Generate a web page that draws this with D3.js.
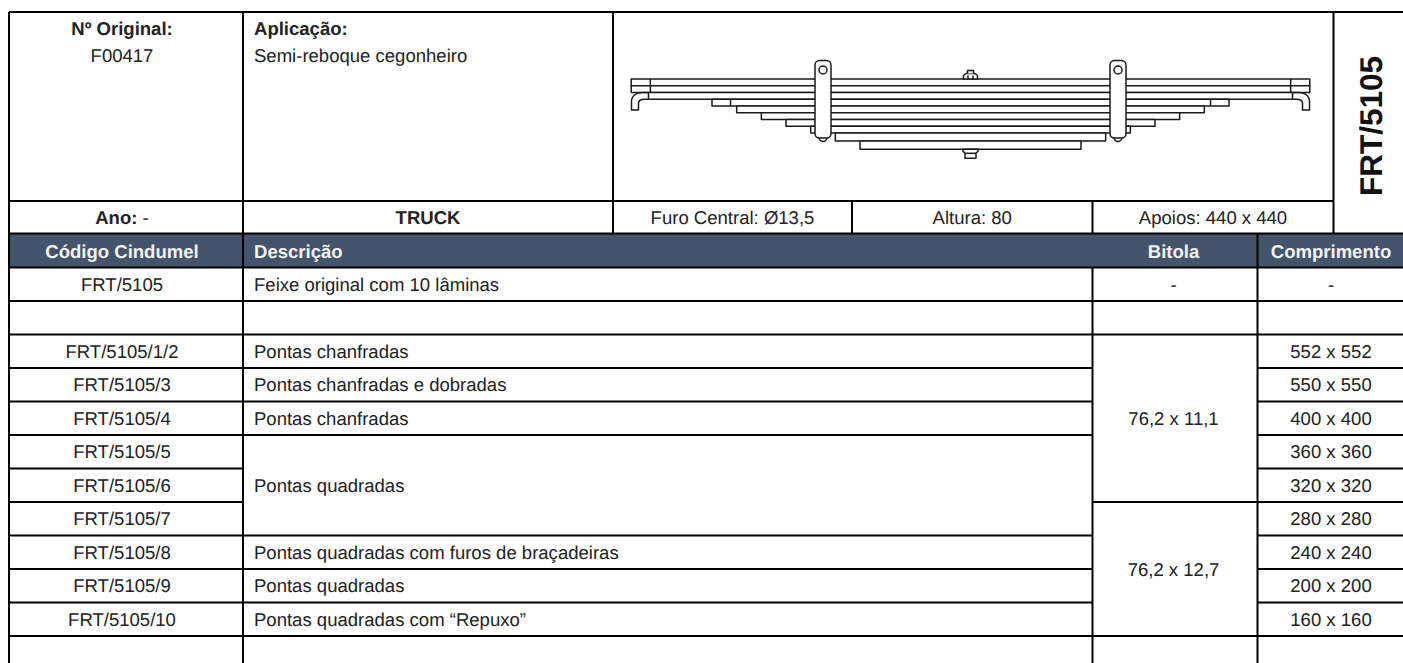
<!DOCTYPE html>
<html>
<head>
<meta charset="utf-8">
<script src="https://cdn.jsdelivr.net/npm/d3@7"></script>
<style>
html, body { margin: 0; padding: 0; background: #fff; }
svg { display: block; }
text { font-family: "Liberation Sans", Arial, sans-serif; fill: #222; text-rendering: geometricPrecision; }
</style>
</head>
<body>
<svg width="1403" height="663"></svg>
<script>
// table content
var codes = ["FRT/5105", "", "FRT/5105/1/2", "FRT/5105/3", "FRT/5105/4", "FRT/5105/5", "FRT/5105/6",
    "FRT/5105/7", "FRT/5105/8", "FRT/5105/9", "FRT/5105/10", ""];
// null = merged with the row above
var descriptions = ["Feixe original com 10 lâminas", "", "Pontas chanfradas", "Pontas chanfradas e dobradas",
    "Pontas chanfradas", "Pontas quadradas", null, null, "Pontas quadradas com furos de braçadeiras",
    "Pontas quadradas", "Pontas quadradas com “Repuxo”", ""];
var bitolas = ["-", "", "76,2 x 11,1", null, null, null, null, "76,2 x 12,7", null, null, null, ""];
var comprimentos = ["-", "", "552 x 552", "550 x 550", "400 x 400", "360 x 360", "320 x 320",
    "280 x 280", "240 x 240", "200 x 200", "160 x 160", ""];
var headers = ["Código Cindumel", "Descrição", "Bitola", "Comprimento"];
var specs = ["Furo Central: Ø13,5", "Altura: 80", "Apoios: 440 x 440"];

// leaf spring, top leaf first (drawn length, thickness)
var leafLengths = [531, 531, 503, 400, 360, 320, 280, 240, 200, 160];
var leafThickness = [11.1, 11.1, 11.1, 11.1, 11.1, 11.1, 11.1, 11.1, 13.2, 13.6];
var leafJoints = [[0, 500], [1, 500], [3, 370]];

var svg = d3.select("svg"),
    width = +svg.attr("width"),
    height = +svg.attr("height");

var ink = "#000",
    headerFill = "#44546a";

// layout
var left = 9, top_ = 12;
var colA = 243, colB = 613, colC = 852, colD = 1092.5, colE = 1257.5, colF = 1333.5;
var infoLine = 201, headTop = 233.5, headBottom = 267.5;
var baseShift = 6.6, fontSize = 18.55;

var rowY = d3.scaleLinear().domain([0, 11]).range([267.5, 636]);
function rowBottom(i) { return i === 11 ? height : rowY(i + 1); }

function line(x1, y1, x2, y2) {
    svg.append("line")
        .attr("x1", x1).attr("y1", y1).attr("x2", x2).attr("y2", y2)
        .attr("stroke", ink).attr("stroke-width", 2);
}

function label(x, y, txt, anchor, bold) {
    return svg.append("text")
        .attr("x", x).attr("y", y)
        .attr("text-anchor", anchor || "middle")
        .attr("font-size", fontSize)
        .attr("font-weight", bold ? "bold" : "normal")
        .text(txt);
}

// header band
svg.append("rect")
    .attr("x", left).attr("y", headTop)
    .attr("width", width - left).attr("height", headBottom - headTop)
    .attr("fill", headerFill);

// top block lines
line(left, top_, width, top_);
line(left, infoLine, colF, infoLine);
line(left, headTop, width, headTop);
line(left, top_, left, height);
line(colA, top_, colA, height);
line(colB, top_, colB, headTop);
line(colC, infoLine, colC, headTop);
line(colD, infoLine, colD, headTop);
line(colD, headBottom, colD, height);
line(colE, headTop, colE, height);
line(colF, top_, colF, headTop);

// rows: a line is skipped in a column while the next row is merged into it
d3.range(12).forEach(function (i) {
    var y = rowY(i);
    line(left, y, colA, y);
    if (descriptions[i] !== null) line(colA, y, colD, y);
    if (bitolas[i] !== null) line(colD, y, colE, y);
    line(colE, y, width, y);
});

// top block text
label(122, 35, "Nº Original:", "middle", true);
label(122, 62, "F00417");
label(254, 35, "Aplicação:", "start", true);
label(254, 62, "Semi-reboque cegonheiro", "start");

var ano = label(122, 224, "", "middle", true);
ano.append("tspan").text("Ano:");
ano.append("tspan").attr("font-weight", "normal").text(" -");
label((colA + colB) / 2, 224, "TRUCK", "middle", true);
specs.forEach(function (s, i) {
    label([colB, colC, colD][i] / 2 + [colC, colD, colF][i] / 2, 224, s);
});

svg.append("text")
    .attr("transform", "translate(1382,126) rotate(-90)")
    .attr("text-anchor", "middle")
    .attr("font-size", 31.5)
    .attr("font-weight", "bold")
    .style("fill", "#111")
    .text("FRT/5105");

// header text
[[122, "middle"], [254, "start"], [1173.5, "middle"], [1331, "middle"]].forEach(function (h, i) {
    label(h[0], 258, headers[i], h[1], true).style("fill", "#f2f2f2");
});

// merged cell text sits in the middle of its span
function spanEnd(list, i) {
    var j = i;
    while (j + 1 < list.length && list[j + 1] === null) j++;
    return rowBottom(j);
}
codes.forEach(function (d, i) {
    var mid = (rowY(i) + rowBottom(i)) / 2 + baseShift;
    label(122, mid, d);
    label(1331, mid, comprimentos[i]);
    if (descriptions[i]) label(254, (rowY(i) + spanEnd(descriptions, i)) / 2 + baseShift, descriptions[i], "start");
    if (bitolas[i]) label(1173.5, (rowY(i) + spanEnd(bitolas, i)) / 2 + baseShift, bitolas[i]);
});

// leaf spring drawing
var centerX = 970.5;
var halfLen = d3.scaleLinear().domain([160, 400]).range([110.5, 258.5]);
var thick = d3.scaleLinear().domain([0, 11.1]).range([0, 6.75]);
var leafTop = [];
leafThickness.reduce(function (acc, t, i) { leafTop[i] = acc; return acc + thick(t); }, 79);

var spring = svg.append("g")
    .attr("fill", "#fff")
    .attr("stroke", "#1a1a1a")
    .attr("stroke-width", 1.5)
    .attr("stroke-linejoin", "round");

spring.selectAll("rect.leaf")
    .data(leafLengths)
    .enter()
    .append("rect")
    .attr("class", "leaf")
    .attr("x", function (d) { return centerX - halfLen(d); })
    .attr("y", function (d, i) { return leafTop[i]; })
    .attr("width", function (d) { return 2 * halfLen(d); })
    .attr("height", function (d, i) { return thick(leafThickness[i]); });

spring.selectAll("path.joint")
    .data(leafJoints)
    .enter()
    .append("path")
    .attr("class", "joint")
    .attr("d", function (d) {
        var y0 = leafTop[d[0]], y1 = y0 + thick(leafThickness[d[0]]), h = halfLen(d[1]);
        return "M" + (centerX - h) + "," + y0 + "V" + y1 + "M" + (centerX + h) + "," + y0 + "V" + y1;
    });

[-1, 1].forEach(function (side) {
    var g = spring.append("g")
        .attr("transform", "translate(" + centerX + ",0) scale(" + side + ",1)");

    // bent end of the third leaf
    var top3 = leafTop[2], bot3 = leafTop[3], h3 = halfLen(leafLengths[2]);
    var p = d3.path();
    p.moveTo(h3, top3);
    p.lineTo(h3 + 6, top3);
    p.bezierCurveTo(h3 + 12, top3, h3 + 17, top3 + 3, h3 + 17, top3 + 9);
    p.lineTo(h3 + 17, top3 + 17.5);
    p.lineTo(h3 + 10, top3 + 17.5);
    p.lineTo(h3 + 10, top3 + 11);
    p.bezierCurveTo(h3 + 10, bot3 + 1, h3 + 7, bot3, h3 + 4, bot3);
    p.lineTo(h3, bot3);
    g.append("path").attr("d", p.toString()).attr("fill", "none");

    // rivet under the clip, then the clip over the leaves
    g.append("path").attr("d", "M143.5,137 A4,4.5 0 0 0 151.5,137");
    g.append("rect")
        .attr("x", 139.5).attr("y", 60.5)
        .attr("width", 16).attr("height", 77.5)
        .attr("rx", 4.5).attr("ry", 4.5);
    g.append("circle").attr("cx", 147.5).attr("cy", 70).attr("r", 4);
});

// centre bolt, nut on top and head below
var nut = spring.append("g").attr("transform", "translate(" + centerX + ",0)");
nut.append("path").attr("d", "M-7,79V75.5L-4.5,73.5H4.5L7,75.5V79Z");
nut.append("path").attr("d", "M-3,73.5V70.5H3V73.5M-2.5,75.5V79M2.5,75.5V79");
var bolt = leafTop[9] + thick(leafThickness[9]);
nut.append("path").attr("d", "M-7.5," + bolt + "V" + (bolt + 2) + "L-5.5," + (bolt + 4) + "V" + (bolt + 9) + "H5.5V" + (bolt + 4) + "L7.5," + (bolt + 2) + "V" + bolt + "Z");
nut.append("path").attr("d", "M-5.5," + (bolt + 4) + "H5.5").attr("fill", "none");
</script>
</body>
</html>
